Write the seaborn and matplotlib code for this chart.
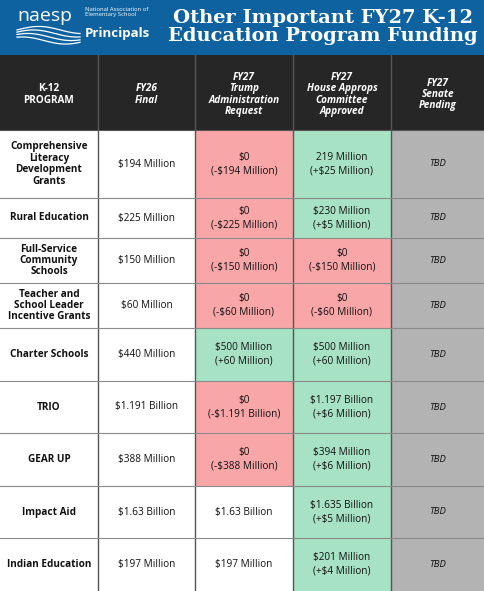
import numpy as np
import seaborn as sns
import matplotlib.pyplot as plt
from matplotlib.colors import ListedColormap

programs = ["Comprehensive\nLiteracy\nDevelopment\nGrants", "Rural Education", "Full-Service\nCommunity\nSchools",
            "Teacher and\nSchool Leader\nIncentive Grants", "Charter Schools", "TRIO", "GEAR UP",
            "Impact Aid", "Indian Education"]
fy26 = ["$194 Million", "$225 Million", "$150 Million", "$60 Million", "$440 Million",
        "$1.191 Billion", "$388 Million", "$1.63 Billion", "$197 Million"]
trump = ["$0\n(-$194 Million)", "$0\n(-$225 Million)", "$0\n(-$150 Million)", "$0\n(-$60 Million)",
         "$500 Million\n(+60 Million)", "$0\n(-$1.191 Billion)", "$0\n(-$388 Million)",
         "$1.63 Billion", "$197 Million"]
house = ["219 Million\n(+$25 Million)", "$230 Million\n(+$5 Million)", "$0\n(-$150 Million)",
         "$0\n(-$60 Million)", "$500 Million\n(+60 Million)", "$1.197 Billion\n(+$6 Million)",
         "$394 Million\n(+$6 Million)", "$1.635 Billion\n(+$5 Million)", "$201 Million\n(+$4 Million)"]
senate = ["TBD"] * 9
# 0 white, 1 red (cut), 2 green (increase/level), 3 gray (pending)
trump_status = [1, 1, 1, 1, 2, 1, 1, 0, 0]
house_status = [2, 2, 1, 1, 2, 2, 2, 2, 2]
headers = ["K-12\nPROGRAM", "FY26\nFinal", "FY27\nTrump\nAdministration\nRequest",
           "FY27\nHouse Approps\nCommittee\nApproved", "FY27\nSenate\nPending"]
row_heights = [68, 40, 45, 45, 53, 52, 53, 52, 53]
header_height = 75
col_edges = [0, 98, 195, 293, 391, 485]

# status grid in pixel rows so rows can have different heights
rows = [[4] * 5] * header_height
for i, h in enumerate(row_heights):
    rows += [[0, 0, trump_status[i], house_status[i], 3]] * h
grid = np.repeat(np.array(rows), np.diff(col_edges), axis=1)

fig = plt.figure(figsize=(4.85, 5.91), dpi=100)
fig.patch.set_facecolor("#0f62a0")
ax = fig.add_axes([0, 0, 1, 536 / 591])
cmap = ListedColormap(["#ffffff", "#f8a6a8", "#a8e2c4", "#b3b3b3", "#262626"])
sns.heatmap(grid, ax=ax, cmap=cmap, vmin=-0.5, vmax=4.5, cbar=False,
            xticklabels=False, yticklabels=False)

for x in col_edges[1:-1]:
    ax.axvline(x, color="#555555", lw=1)
ys = np.cumsum([header_height] + row_heights)
for y in ys[:-1]:
    ax.axhline(y, color="#8a8a8a" if y > header_height else "#555555", lw=0.8)

fam = ["Open Sans", "DejaVu Sans"]
centers = [(a + b) / 2 for a, b in zip(col_edges[:-1], col_edges[1:])]
for j, htxt in enumerate(headers):
    ax.text(centers[j], header_height / 2 + 2, htxt, color="white", ha="center", va="center",
            fontsize=7.2, fontweight="bold", style="normal" if j == 0 else "italic",
            family=fam, linespacing=1.05)

starts = ys[:-1]
for i in range(9):
    yc = starts[i] + row_heights[i] / 2
    ax.text(centers[0], yc, programs[i], ha="center", va="center", fontsize=7.2,
            fontweight="bold", family=fam, color="#111111", linespacing=1.05)
    for j, col in enumerate([fy26, trump, house]):
        ax.text(centers[j + 1], yc, col[i], ha="center", va="center", fontsize=7.2,
                family=fam, color="#111111", linespacing=1.35)
    ax.text(centers[4], yc, senate[i], ha="center", va="center", fontsize=6.8,
            style="italic", family=fam, color="#111111")

# header banner
fig.text(0.665, 1 - 27 / 591, "Other Important FY27 K-12\nEducation Program Funding", color="white",
         ha="center", va="center", fontsize=14, fontweight="bold", family="DejaVu Serif",
         linespacing=1.05)
fig.text(0.035, 1 - 16 / 591, "naesp", color="white", fontsize=14, family=fam, va="center")
fig.text(0.175, 1 - 12 / 591, "National Association of\nElementary School", color="white",
         fontsize=4.2, family=fam, va="center", linespacing=1.0)
fig.text(0.175, 1 - 34 / 591, "Principals", color="white", fontsize=9.5, fontweight="bold",
         family=fam, va="center")
wx = np.linspace(0.035, 0.165, 50)
for k in range(4):
    fig.add_artist(plt.Line2D(wx, 1 - (30 + 3.5 * k) / 591 + 0.006 * np.sin((wx - 0.035) * 35 + k * 0.4),
                              color="white", lw=0.9))

fig.savefig("out.png", dpi=100, facecolor=fig.get_facecolor())
